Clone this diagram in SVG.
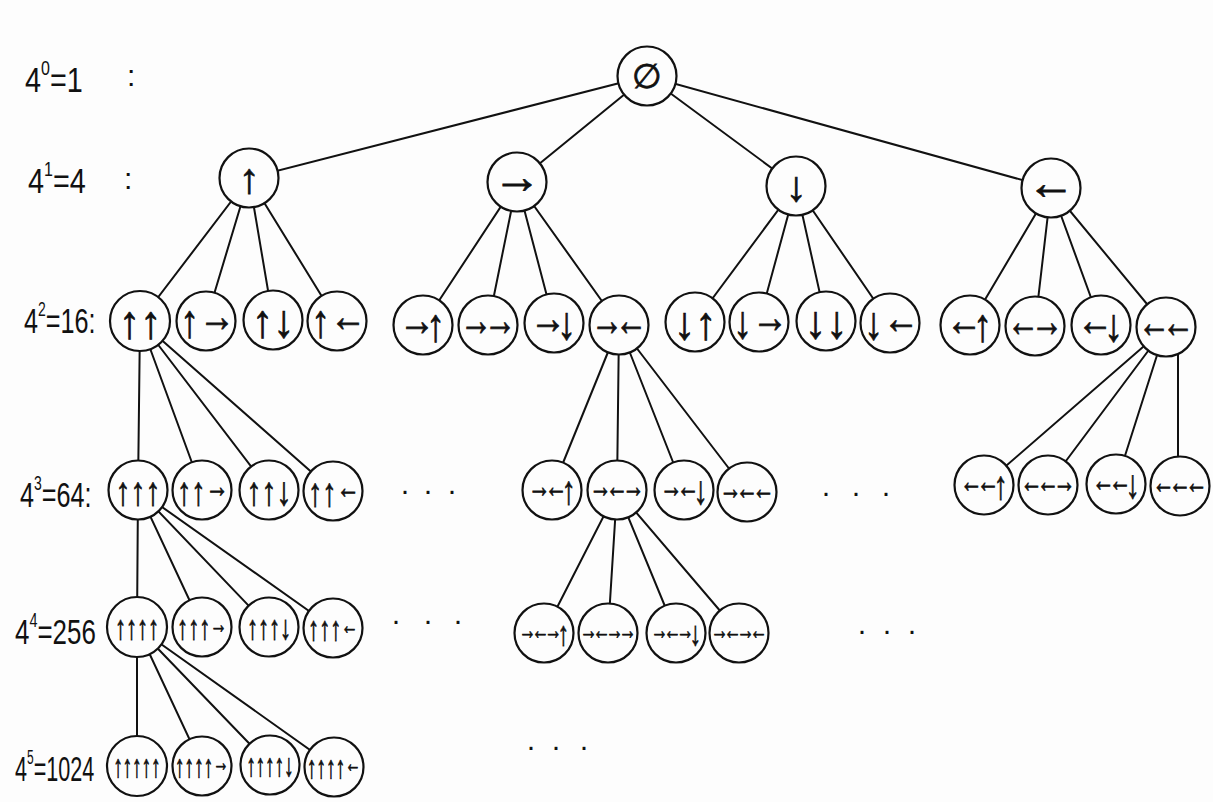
<svg xmlns="http://www.w3.org/2000/svg" width="1213" height="802" viewBox="0 0 1213 802">
<style>
.bg{fill:#fdfdfd}
.edge line{stroke:#111;stroke-width:2;stroke-linecap:round}
.node circle{fill:#fdfdfd;stroke:#111;stroke-width:2.2}
.node text{font-family:"Liberation Sans",sans-serif;fill:#111;stroke:#111;stroke-width:0.8;text-anchor:middle;dominant-baseline:central}
.node tspan{dominant-baseline:central}
.v1{font-size:42px}.h1{font-size:48px;baseline-shift:0.12em}.e{font-size:34px}
.v2{font-size:46px}.h2{font-size:44px;letter-spacing:-0.25em;baseline-shift:0.12em}
.v3{font-size:40px}.h3{font-size:32px;letter-spacing:-0.25em;baseline-shift:0.12em}
.v4{font-size:34px}.h4{font-size:26px;letter-spacing:-0.25em;baseline-shift:0.12em}
.v5{font-size:32px}.h5{font-size:26px;letter-spacing:-0.25em;baseline-shift:0.12em}
.lab{font-family:"Liberation Sans",sans-serif;font-size:36px;fill:#111}
.sup{font-size:20px}
.col{font-family:"Liberation Sans",sans-serif;font-size:30px;fill:#111}
.dots{font-family:"Liberation Sans",sans-serif;font-size:30px;fill:#111;text-anchor:middle}
</style>
<rect class="bg" x="0" y="0" width="1213" height="802"/>
<g id="labels">
<text class="lab" transform="translate(25,92) scale(0.8,1)">4<tspan class="sup" dy="-17">0</tspan><tspan dy="17">=1</tspan></text>
<text class="col" x="127" y="86">:</text>
<text class="lab" transform="translate(28,193) scale(0.8,1)">4<tspan class="sup" dy="-17">1</tspan><tspan dy="17">=4</tspan></text>
<text class="col" x="124" y="189">:</text>
<text class="lab" transform="translate(24,333) scale(0.7,1)">4<tspan class="sup" dy="-17">2</tspan><tspan dy="17">=16:</tspan></text>
<text class="lab" transform="translate(20,507) scale(0.7,1)">4<tspan class="sup" dy="-17">3</tspan><tspan dy="17">=64:</tspan></text>
<text class="lab" transform="translate(15,644) scale(0.72,1)">4<tspan class="sup" dy="-17">4</tspan><tspan dy="17">=256</tspan></text>
<text class="lab" transform="translate(15,781) scale(0.6,1)">4<tspan class="sup" dy="-17">5</tspan><tspan dy="17">=1024</tspan></text>
</g>
<g id="connectors" class="edge">
<line x1="647" y1="76" x2="249" y2="178"/><line x1="647" y1="76" x2="517" y2="182"/><line x1="647" y1="76" x2="796" y2="186"/><line x1="647" y1="76" x2="1051" y2="188"/>
<line x1="249" y1="178" x2="140" y2="321"/><line x1="249" y1="178" x2="206" y2="321"/><line x1="249" y1="178" x2="273" y2="320"/><line x1="249" y1="178" x2="337" y2="321"/>
<line x1="517" y1="182" x2="423" y2="325"/><line x1="517" y1="182" x2="488" y2="325"/><line x1="517" y1="182" x2="554" y2="323"/><line x1="517" y1="182" x2="619" y2="325"/>
<line x1="796" y1="186" x2="695" y2="322"/><line x1="796" y1="186" x2="759" y2="322"/><line x1="796" y1="186" x2="826" y2="321"/><line x1="796" y1="186" x2="890" y2="323"/>
<line x1="1051" y1="188" x2="970" y2="325"/><line x1="1051" y1="188" x2="1035" y2="326"/><line x1="1051" y1="188" x2="1101" y2="325"/><line x1="1051" y1="188" x2="1166" y2="327"/>
<line x1="140" y1="321" x2="138" y2="490"/><line x1="140" y1="321" x2="202" y2="490"/><line x1="140" y1="321" x2="269" y2="490"/><line x1="140" y1="321" x2="333" y2="491"/>
<line x1="619" y1="325" x2="552" y2="490"/><line x1="619" y1="325" x2="617" y2="490"/><line x1="619" y1="325" x2="684" y2="490"/><line x1="619" y1="325" x2="747" y2="492"/>
<line x1="1166" y1="327" x2="984" y2="485"/><line x1="1166" y1="327" x2="1048" y2="485"/><line x1="1166" y1="327" x2="1116" y2="484"/><line x1="1178" y1="330" x2="1178" y2="486"/>
<line x1="138" y1="490" x2="137" y2="627"/><line x1="138" y1="490" x2="202" y2="627"/><line x1="138" y1="490" x2="269" y2="627"/><line x1="138" y1="490" x2="333" y2="628"/>
<line x1="617" y1="490" x2="544" y2="633"/><line x1="617" y1="490" x2="608" y2="633"/><line x1="617" y1="490" x2="676" y2="633"/><line x1="617" y1="490" x2="739" y2="633"/>
<line x1="137" y1="627" x2="137" y2="766"/><line x1="137" y1="627" x2="202" y2="766"/><line x1="137" y1="627" x2="270" y2="765"/><line x1="137" y1="627" x2="334" y2="767"/>
</g>
<g id="n-root" class="node"><circle cx="647" cy="76" r="29.5"/><text class="e" x="647" y="76">∅</text></g>
<g id="n-u" class="node"><circle cx="249" cy="178" r="29.5"/><text class="v1" x="249" y="178">↑</text></g>
<g id="n-r" class="node"><circle cx="517" cy="182" r="29.5"/><text x="517" y="182"><tspan class="h1">→</tspan></text></g>
<g id="n-d" class="node"><circle cx="796" cy="186" r="29.5"/><text class="v1" x="796" y="186">↓</text></g>
<g id="n-l" class="node"><circle cx="1051" cy="188" r="29.5"/><text x="1051" y="188"><tspan class="h1">←</tspan></text></g>

<g id="n-uu" class="node"><circle cx="140" cy="321" r="30"/><text transform="translate(140,321) scale(0.92,1)"><tspan class="v2">↑</tspan><tspan class="v2">↑</tspan></text></g>
<g id="n-ur" class="node"><circle cx="206" cy="321" r="29.5"/><text transform="translate(203,321) scale(0.82,1)"><tspan class="v2">↑</tspan><tspan class="h2">→</tspan></text></g>
<g id="n-ud" class="node"><circle cx="273" cy="320" r="29.5"/><text transform="translate(273,320) scale(0.92,1)"><tspan class="v2">↑</tspan><tspan class="v2">↓</tspan></text></g>
<g id="n-ul" class="node"><circle cx="337" cy="321" r="29.5"/><text transform="translate(334,321) scale(0.82,1)"><tspan class="v2">↑</tspan><tspan class="h2">←</tspan></text></g>
<g id="n-ru" class="node"><circle cx="423" cy="325" r="29.5"/><text transform="translate(422,325) scale(0.82,1)"><tspan class="h2">→</tspan><tspan class="v2">↑</tspan></text></g>
<g id="n-rr" class="node"><circle cx="488" cy="325" r="29.5"/><text transform="translate(484,325) scale(0.73,1)"><tspan class="h2">→</tspan><tspan class="h2">→</tspan></text></g>
<g id="n-rd" class="node"><circle cx="554" cy="323" r="29.5"/><text transform="translate(553,323) scale(0.82,1)"><tspan class="h2">→</tspan><tspan class="v2">↓</tspan></text></g>
<g id="n-rl" class="node"><circle cx="619" cy="325" r="29.5"/><text transform="translate(615,325) scale(0.73,1)"><tspan class="h2">→</tspan><tspan class="h2">←</tspan></text></g>
<g id="n-du" class="node"><circle cx="695" cy="322" r="29.5"/><text transform="translate(695,322) scale(0.92,1)"><tspan class="v2">↓</tspan><tspan class="v2">↑</tspan></text></g>
<g id="n-dr" class="node"><circle cx="759" cy="322" r="29.5"/><text transform="translate(756,322) scale(0.82,1)"><tspan class="v2">↓</tspan><tspan class="h2">→</tspan></text></g>
<g id="n-dd" class="node"><circle cx="826" cy="321" r="29.5"/><text transform="translate(826,321) scale(0.92,1)"><tspan class="v2">↓</tspan><tspan class="v2">↓</tspan></text></g>
<g id="n-dl" class="node"><circle cx="890" cy="323" r="29.5"/><text transform="translate(887,323) scale(0.82,1)"><tspan class="v2">↓</tspan><tspan class="h2">←</tspan></text></g>
<g id="n-lu" class="node"><circle cx="970" cy="325" r="29.5"/><text transform="translate(969,325) scale(0.82,1)"><tspan class="h2">←</tspan><tspan class="v2">↑</tspan></text></g>
<g id="n-lr" class="node"><circle cx="1035" cy="326" r="29.5"/><text transform="translate(1031,326) scale(0.73,1)"><tspan class="h2">←</tspan><tspan class="h2">→</tspan></text></g>
<g id="n-ld" class="node"><circle cx="1101" cy="325" r="29.5"/><text transform="translate(1100,325) scale(0.82,1)"><tspan class="h2">←</tspan><tspan class="v2">↓</tspan></text></g>
<g id="n-ll" class="node"><circle cx="1166" cy="327" r="29.5"/><text transform="translate(1162,327) scale(0.73,1)"><tspan class="h2">←</tspan><tspan class="h2">←</tspan></text></g>

<g id="n-uuu" class="node"><circle cx="138" cy="490" r="29.5"/><text transform="translate(138,490) scale(0.75,1)"><tspan class="v3">↑</tspan><tspan class="v3">↑</tspan><tspan class="v3">↑</tspan></text></g>
<g id="n-uur" class="node"><circle cx="202" cy="490" r="29.5"/><text transform="translate(200,490) scale(0.72,1)"><tspan class="v3">↑</tspan><tspan class="v3">↑</tspan><tspan class="h3">→</tspan></text></g>
<g id="n-uud" class="node"><circle cx="269" cy="490" r="29.5"/><text transform="translate(269,490) scale(0.75,1)"><tspan class="v3">↑</tspan><tspan class="v3">↑</tspan><tspan class="v3">↓</tspan></text></g>
<g id="n-uul" class="node"><circle cx="333" cy="491" r="29.5"/><text transform="translate(331,491) scale(0.72,1)"><tspan class="v3">↑</tspan><tspan class="v3">↑</tspan><tspan class="h3">←</tspan></text></g>
<g id="n-rlu" class="node"><circle cx="552" cy="490" r="29.5"/><text transform="translate(552,490) scale(0.7,1)"><tspan class="h3">→</tspan><tspan class="h3">←</tspan><tspan class="v3">↑</tspan></text></g>
<g id="n-rlr" class="node"><circle cx="617" cy="490" r="29.5"/><text transform="translate(614,490) scale(0.69,1)"><tspan class="h3">→</tspan><tspan class="h3">←</tspan><tspan class="h3">→</tspan></text></g>
<g id="n-rld" class="node"><circle cx="684" cy="490" r="29.5"/><text transform="translate(684,490) scale(0.7,1)"><tspan class="h3">→</tspan><tspan class="h3">←</tspan><tspan class="v3">↓</tspan></text></g>
<g id="n-rll" class="node"><circle cx="747" cy="492" r="29.5"/><text transform="translate(744,492) scale(0.69,1)"><tspan class="h3">→</tspan><tspan class="h3">←</tspan><tspan class="h3">←</tspan></text></g>
<g id="n-llu" class="node"><circle cx="984" cy="485" r="29.5"/><text transform="translate(984,485) scale(0.7,1)"><tspan class="h3">←</tspan><tspan class="h3">←</tspan><tspan class="v3">↑</tspan></text></g>
<g id="n-llr" class="node"><circle cx="1048" cy="485" r="29.5"/><text transform="translate(1045,485) scale(0.69,1)"><tspan class="h3">←</tspan><tspan class="h3">←</tspan><tspan class="h3">→</tspan></text></g>
<g id="n-lld" class="node"><circle cx="1116" cy="484" r="29.5"/><text transform="translate(1116,484) scale(0.7,1)"><tspan class="h3">←</tspan><tspan class="h3">←</tspan><tspan class="v3">↓</tspan></text></g>
<g id="n-lll" class="node"><circle cx="1180" cy="486" r="29.5"/><text transform="translate(1177,486) scale(0.69,1)"><tspan class="h3">←</tspan><tspan class="h3">←</tspan><tspan class="h3">←</tspan></text></g>

<g id="n-uuuu" class="node"><circle cx="137" cy="627" r="30"/><text transform="translate(137,627) scale(0.65,1)"><tspan class="v4">↑</tspan><tspan class="v4">↑</tspan><tspan class="v4">↑</tspan><tspan class="v4">↑</tspan></text></g>
<g id="n-uuur" class="node"><circle cx="202" cy="627" r="29.5"/><text transform="translate(200,627) scale(0.65,1)"><tspan class="v4">↑</tspan><tspan class="v4">↑</tspan><tspan class="v4">↑</tspan><tspan class="h4">→</tspan></text></g>
<g id="n-uuud" class="node"><circle cx="269" cy="627" r="29.5"/><text transform="translate(269,627) scale(0.65,1)"><tspan class="v4">↑</tspan><tspan class="v4">↑</tspan><tspan class="v4">↑</tspan><tspan class="v4">↓</tspan></text></g>
<g id="n-uuul" class="node"><circle cx="333" cy="628" r="29.5"/><text transform="translate(331,628) scale(0.65,1)"><tspan class="v4">↑</tspan><tspan class="v4">↑</tspan><tspan class="v4">↑</tspan><tspan class="h4">←</tspan></text></g>
<g id="n-rlru" class="node"><circle cx="544" cy="633" r="29.5"/><text transform="translate(544,633) scale(0.66,1)"><tspan class="h4">→</tspan><tspan class="h4">←</tspan><tspan class="h4">→</tspan><tspan class="v4">↑</tspan></text></g>
<g id="n-rlrr" class="node"><circle cx="608" cy="633" r="29.5"/><text transform="translate(606,633) scale(0.67,1)"><tspan class="h4">→</tspan><tspan class="h4">←</tspan><tspan class="h4">→</tspan><tspan class="h4">→</tspan></text></g>
<g id="n-rlrd" class="node"><circle cx="676" cy="633" r="29.5"/><text transform="translate(676,633) scale(0.66,1)"><tspan class="h4">→</tspan><tspan class="h4">←</tspan><tspan class="h4">→</tspan><tspan class="v4">↓</tspan></text></g>
<g id="n-rlrl" class="node"><circle cx="739" cy="633" r="29.5"/><text transform="translate(737,633) scale(0.67,1)"><tspan class="h4">→</tspan><tspan class="h4">←</tspan><tspan class="h4">→</tspan><tspan class="h4">←</tspan></text></g>

<g id="n-uuuuu" class="node"><circle cx="137" cy="766" r="30"/><text transform="translate(137,766) scale(0.59,1)"><tspan class="v5">↑</tspan><tspan class="v5">↑</tspan><tspan class="v5">↑</tspan><tspan class="v5">↑</tspan><tspan class="v5">↑</tspan></text></g>
<g id="n-uuuur" class="node"><circle cx="202" cy="766" r="29.5"/><text transform="translate(200,766) scale(0.6,1)"><tspan class="v5">↑</tspan><tspan class="v5">↑</tspan><tspan class="v5">↑</tspan><tspan class="v5">↑</tspan><tspan class="h5">→</tspan></text></g>
<g id="n-uuuud" class="node"><circle cx="270" cy="765" r="29.5"/><text transform="translate(270,765) scale(0.59,1)"><tspan class="v5">↑</tspan><tspan class="v5">↑</tspan><tspan class="v5">↑</tspan><tspan class="v5">↑</tspan><tspan class="v5">↓</tspan></text></g>
<g id="n-uuuul" class="node"><circle cx="334" cy="767" r="29.5"/><text transform="translate(332,767) scale(0.6,1)"><tspan class="v5">↑</tspan><tspan class="v5">↑</tspan><tspan class="v5">↑</tspan><tspan class="v5">↑</tspan><tspan class="h5">←</tspan></text></g>

<g id="ellipses">
<text class="dots" x="405 428 452" y="500">···</text>
<text class="dots" x="826 856 886" y="502">···</text>
<text class="dots" x="396 428 458" y="630">···</text>
<text class="dots" x="862 887 912" y="640">···</text>
<text class="dots" x="531 556 584" y="756">···</text>
</g>
</svg>
